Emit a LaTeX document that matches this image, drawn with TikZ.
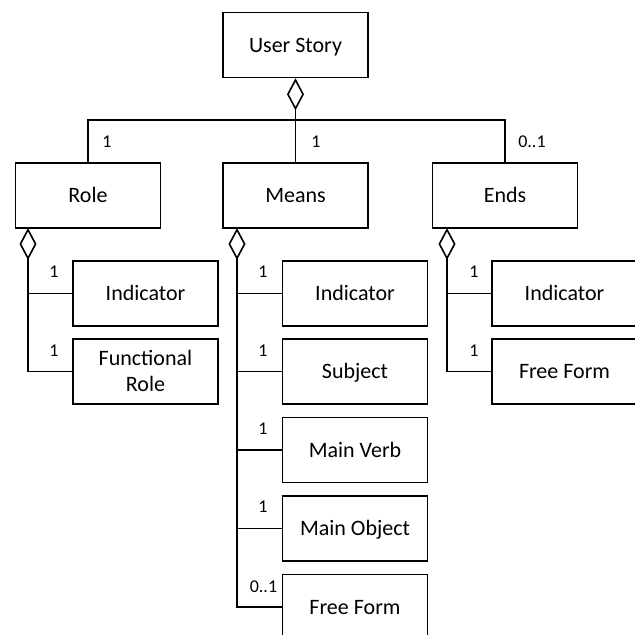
\documentclass[tikz,border=0pt]{standalone}
\usepackage{fontspec}
\setmainfont{Carlito}
\usetikzlibrary{arrows.meta,positioning}

\begin{document}
\begin{tikzpicture}[
    x=1pt, y=-1pt,
    part/.style={rectangle, draw, line width=1.6pt,
                 minimum width=145pt, minimum height=65pt,
                 inner sep=2pt, align=center,
                 text height=14pt, text depth=0pt,
                 font=\fontsize{22}{26}\selectfont},
    link/.style={line width=1.6pt},
    agg/.style={link, {Diamond[open,length=32pt,width=17pt]}-},
    mult/.style={inner sep=0pt, font=\fontsize{18}{20}\selectfont}
]
\useasboundingbox (0,0) rectangle (635,635);
\clip (0,0) rectangle (635,635);

% User story and its three parts
\node[part] (story) at (295.5,45) {User Story};
\node[part] (role) at (88,195.5) {Role};
\node[part] (means) at (295.5,195.5) {Means};
\node[part] (ends) at (505,195.5) {Ends};

% Parts of the role
\node[part] (roleind) at (145.5,293.5) {Indicator};
\node[part, text height=40pt] (rolefun) at (145.5,371.5) {Functional\\Role};

% Parts of the means
\node[part] (meansind) at (355,293.5) {Indicator};
\node[part] (meanssub) at (355,371.5) {Subject};
\node[part] (meansverb) at (355,450) {Main Verb};
\node[part] (meansobj) at (355,528.5) {Main Object};
\node[part] (meansfree) at (355,607) {Free Form};

% Parts of the ends
\node[part] (endsind) at (564.5,293.5) {Indicator};
\node[part] (endsfree) at (564.5,371.5) {Free Form};

% Hubs of the aggregations
\coordinate (bus) at (295.5,120);
\coordinate (rolehub) at (28,228);
\coordinate (meanshub) at (237,228);
\coordinate (endshub) at (447,228);

% Aggregation of the story
\draw[agg] (story.south) -- (bus);
\draw[link] (role.north) |- (bus) -| (ends.north);
\draw[link] (bus) -- (means.north);

% Aggregation of the role
\draw[agg] (rolehub) |- (roleind.west);
\draw[link] (roleind.west -| rolehub) |- (rolefun.west);

% Aggregation of the means
\draw[agg] (meanshub) |- (meansind.west);
\draw[link] (meansind.west -| meanshub) |- (meansfree.west);
\draw[link] (meanssub.west -| meanshub) -- (meanssub.west);
\draw[link] (meansverb.west -| meanshub) -- (meansverb.west);
\draw[link] (meansobj.west -| meanshub) -- (meansobj.west);

% Aggregation of the ends
\draw[agg] (endshub) |- (endsind.west);
\draw[link] (endsind.west -| endshub) |- (endsfree.west);

% Multiplicities
\node[mult] (m1) at (107,142) {1};
\node[mult] (m2) at (316,142) {1};
\node[mult] (m3) at (532,142) {0..1};
\node[mult] (m4) at (54,272) {1};
\node[mult] (m5) at (54,351) {1};
\node[mult] (m6) at (263,272) {1};
\node[mult] (m7) at (263,351) {1};
\node[mult] (m8) at (263,429) {1};
\node[mult] (m9) at (263,507) {1};
\node[mult] (m10) at (263.5,587) {0..1};
\node[mult] (m11) at (474,272) {1};
\node[mult] (m12) at (474,351) {1};

\end{tikzpicture}
\end{document}
